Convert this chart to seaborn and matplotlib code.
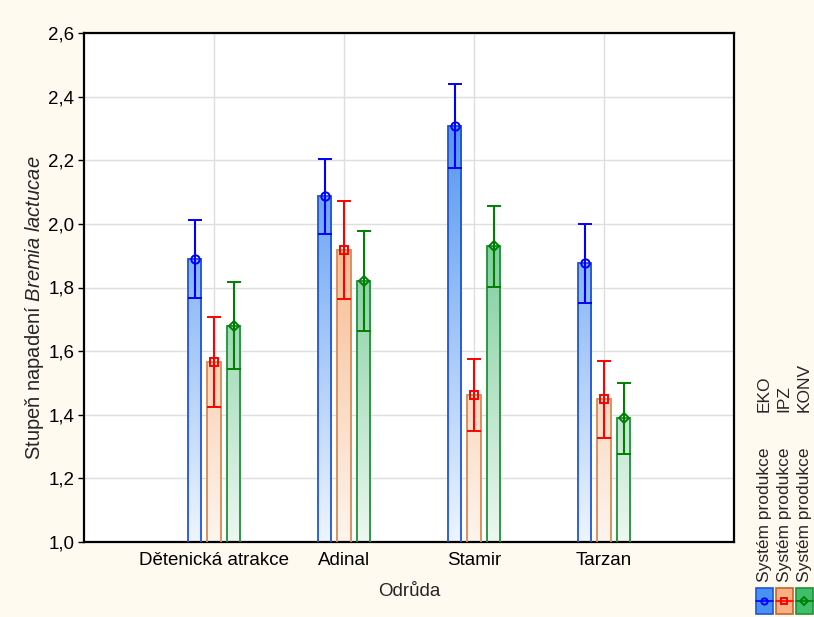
import numpy as np
import pandas as pd
import matplotlib
matplotlib.use("Agg")
import matplotlib.pyplot as plt
import seaborn as sns
from matplotlib.colors import to_rgb
from matplotlib.patches import Rectangle
from matplotlib.lines import Line2D

# --- data -------------------------------------------------------------
varieties = ["Dětenická atrakce", "Adinal", "Stamir", "Tarzan"]
systems = ["EKO", "IPZ", "KONV"]
eko_mean = [1.890, 2.087, 2.308, 1.876]
eko_err = [0.123, 0.118, 0.132, 0.125]
ipz_mean = [1.565, 1.918, 1.461, 1.448]
ipz_err = [0.141, 0.153, 0.113, 0.120]
konv_mean = [1.680, 1.821, 1.929, 1.389]
konv_err = [0.137, 0.157, 0.127, 0.112]
y_ticks = [1.0, 1.2, 1.4, 1.6, 1.8, 2.0, 2.2, 2.4, 2.6]

means = {"EKO": eko_mean, "IPZ": ipz_mean, "KONV": konv_mean}
errs = {"EKO": eko_err, "IPZ": ipz_err, "KONV": konv_err}

df = pd.DataFrame(
    [(v, s, means[s][i]) for s in systems for i, v in enumerate(varieties)],
    columns=["Odrůda", "Systém produkce", "mean"],
)

# --- styling ------------------------------------------------------------
sns.set_style("white")
plt.rcParams["font.family"] = ["Liberation Sans", "DejaVu Sans"]
plt.rcParams["mathtext.fontset"] = "custom"
plt.rcParams["mathtext.rm"] = "Liberation Sans"
plt.rcParams["mathtext.it"] = "Liberation Sans:italic"

FS = 13.5
FS_LEG = 12.5
bg = "#fffaf0"
edge_col = {"EKO": "#1f55d8", "IPZ": "#d58a55", "KONV": "#1f9138"}
err_col = {"EKO": "#0000ff", "IPZ": "#ff0000", "KONV": "#008000"}
light_col = {"EKO": "#eef5fe", "IPZ": "#fdf5ee", "KONV": "#edf8f1"}
dark_col = {"EKO": "#4a90ee", "IPZ": "#f4a066", "KONV": "#48b974"}
markers = {"EKO": "o", "IPZ": "s", "KONV": "D"}
msize = {"EKO": 6.0, "IPZ": 5.5, "KONV": 5.2}

fig = plt.figure(figsize=(8.14, 6.17), dpi=100, facecolor=bg)
W, H = 814, 617
ax = fig.add_axes([84 / W, (H - 542) / H, 650 / W, 509 / H])
ax.set_facecolor("white")

sns.barplot(
    data=df, x="Odrůda", y="mean", hue="Systém produkce",
    order=varieties, hue_order=systems, width=0.45, gap=0.3,
    errorbar=None, legend=False, ax=ax,
    palette={s: edge_col[s] for s in systems},
)

ax.set_xlim(-1, 4)
ax.set_ylim(1.0, 2.6)


def grad_rgba(s, lo, hi, n=200):
    vals = np.linspace(lo, hi, n)
    t = np.clip((vals - 1.0) / 1.4, 0, 1)[:, None]
    a = np.array(to_rgb(light_col[s]))
    b = np.array(to_rgb(dark_col[s]))
    rgb = a + (b - a) * t
    return rgb[:, None, :]


step = 0.45 / 3
for p in list(ax.patches):
    x0, w, h = p.get_x(), p.get_width(), p.get_height()
    xc = x0 + w / 2
    ci = int(round(xc))
    si = int(round((xc - ci) / step)) + 1
    s = systems[si]
    p.set_facecolor("none")
    p.set_edgecolor(edge_col[s])
    p.set_linewidth(1.3)
    p.set_zorder(3)
    ax.imshow(grad_rgba(s, 1.0, h), extent=[x0, x0 + w, 1.0, h],
              origin="lower", aspect="auto", zorder=2.5, interpolation="bilinear")
    ax.errorbar(xc, h, yerr=errs[s][ci], fmt=markers[s], color=err_col[s],
                mfc="none", mec=err_col[s], ms=msize[s], mew=1.4,
                elinewidth=1.5, capsize=4.8, capthick=1.5, zorder=4)

ax.set_xlim(-1, 4)
ax.set_ylim(1.0, 2.6)
ax.set_xticks(range(len(varieties)))
ax.set_xticklabels(varieties, fontsize=FS)
ax.set_yticks(y_ticks)
ax.set_yticklabels([f"{v:.1f}".replace(".", ",") for v in y_ticks], fontsize=FS)
ax.tick_params(axis="x", direction="in", length=3, width=1.2, pad=7, colors="black")
ax.tick_params(axis="y", direction="out", length=4, width=1, pad=3, colors="black", left=True)
ax.grid(True, color="#dedede", linewidth=1)
ax.set_axisbelow(True)
for sp in ax.spines.values():
    sp.set_visible(True)
    sp.set_color("black")
    sp.set_linewidth(1.6)

ax.set_xlabel("Odrůda", fontsize=FS, labelpad=10)
ax.set_ylabel("Stupeň napadení $\\mathit{Bremia\\ lactucae}$", fontsize=14.5)
ax.yaxis.set_label_coords(-0.058, 0.46)

# --- legend on the right, rotated ---------------------------------------
def fx(px):
    return px / W


def fy(py):
    return (H - py) / H


legend_fill = {"EKO": "#4a92f2", "IPZ": "#f9b083", "KONV": "#3fbf6c"}
legend_edge = {"EKO": "#1f55d8", "IPZ": "#d0602a", "KONV": "#1f9138"}
col_x = [764, 784, 804]
for s, cx in zip(systems, col_x):
    fig.patches.append(Rectangle((fx(cx - 8.5), fy(614)), 17 / W, 26 / H,
                                 transform=fig.transFigure, facecolor=legend_fill[s],
                                 edgecolor=legend_edge[s], linewidth=1.2))
    fig.lines.append(Line2D([fx(cx - 8.5), fx(cx + 8.5)], [fy(601), fy(601)],
                            transform=fig.transFigure, color=err_col[s], lw=1.2))
    fig.lines.append(Line2D([fx(cx)], [fy(601)], transform=fig.transFigure,
                            marker=markers[s], ms=4.5, mfc="none", mec=err_col[s],
                            mew=1.4, color=err_col[s]))
    fig.text(fx(cx), fy(582), "Systém produkce", rotation=90, rotation_mode="anchor",
             ha="left", va="center", fontsize=FS_LEG)
    fig.text(fx(cx), fy(412), s, rotation=90, rotation_mode="anchor",
             ha="left", va="center", fontsize=FS_LEG)

fig.savefig("out.png", dpi=100, facecolor=bg)
